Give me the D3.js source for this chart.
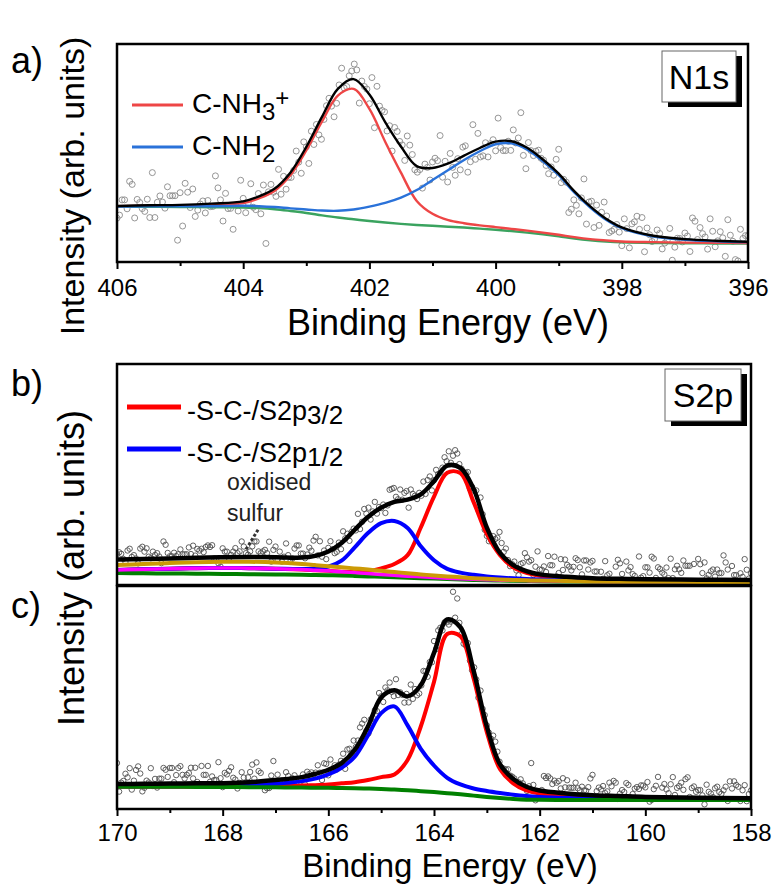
<!DOCTYPE html>
<html>
<head>
<meta charset="utf-8">
<script src="https://cdn.jsdelivr.net/npm/d3@7"></script>
<style>
  html, body { margin: 0; padding: 0; background: #fff; }
  svg { display: block; font-family: "Liberation Sans", Arial, sans-serif; }
</style>
</head>
<body>
<svg id="chart" width="774" height="885"></svg>
<script>
// ---------- N1s region (panel a) ----------
const n1sEnergy = [406,405.5,405,404.5,404,403.75,403.5,403.25,403,402.75,402.5,402.25,402,401.75,401.5,401.25,401,400.75,400.5,400.25,400,399.75,399.5,399.25,399,398.75,398.5,398.25,398,397.5,397,396.5,396];
const n1sBackground = [25.3,25.3,25.2,25.1,25.0,24.7,24.2,23.4,22.5,21.4,20.4,19.6,18.8,18.1,17.5,17.0,16.6,16.2,15.8,15.3,14.8,14.2,13.5,12.7,11.8,10.8,10.0,9.4,9.0,8.7,8.6,8.5,8.5];
const n1sNH3 = [25.6,25.8,25.9,26.3,27.0,29.2,32.7,39.9,51.2,64.5,76.3,79.4,70.2,55.2,41.0,28.0,22.1,19.2,17.8,16.8,16.0,15.2,14.4,13.5,12.5,11.4,10.5,9.9,9.4,9.1,8.9,8.8,8.7];
const n1sNH2 = [25.4,25.5,25.5,25.6,25.8,25.6,25.2,24.6,24.1,23.6,23.5,24.1,25.4,27.1,29.5,33.0,37.6,42.2,46.8,50.8,54.0,54.4,51.5,46.2,39.8,31.8,25.0,19.4,15.5,11.7,10.2,9.5,9.1];
const n1sEnvelope = [25.7,26.0,26.2,26.8,27.8,30.1,33.7,41.1,52.8,66.7,79.4,83.9,76.8,64.2,53.0,44.0,43.1,45.2,48.8,52.3,55.2,55.4,52.4,47.0,40.5,32.4,25.5,19.85,15.9,12.05,10.5,9.75,9.3];
// measured counts, scan from 406 eV downwards in 0.04 eV steps
const n1sScanStart = 406, n1sScanStep = 0.04;
const n1sCounts = [
20.1,21.5,28.5,28.5,24.4,37.0,35.6,20.2,28.7,27.3,
24.5,23.2,28.8,20.4,41.0,20.4,27.4,30.3,27.5,24.7,
34.5,30.4,30.4,30.4,10.0,31.8,16.5,36.1,32.0,25.0,
33.5,20.9,23.8,26.6,28.0,22.5,28.2,25.4,25.5,39.5,
34.0,28.5,18.8,31.5,24.5,24.6,15.0,26.2,23.4,37.5,
29.2,22.6,27.1,35.9,25.1,24.0,31.4,22.1,35.3,8.5,
32.2,35.6,32.0,30.1,42.5,31.1,39.3,33.4,38.8,38.8,
42.0,50.9,45.8,40.7,55.1,52.8,45.2,60.0,53.9,63.1,
58.3,56.3,65.4,71.7,75.1,71.5,66.6,72.8,81.2,88.9,
79.8,80.5,85.4,87.6,90.8,88.1,72.9,83.0,80.5,79.3,
72.6,84.6,61.6,80.6,71.5,69.5,68.9,60.1,62.5,50.9,
61.7,59.9,55.3,53.7,46.6,57.8,53.6,49.3,42.3,41.2,
42.4,33.9,44.9,43.4,37.6,45.9,47.6,46.5,58.0,38.9,
46.2,36.7,49.8,43.4,39.8,47.4,42.3,52.7,53.3,41.2,
46.0,63.0,47.1,59.0,48.2,48.7,54.7,48.2,54.3,56.1,
51.0,66.0,52.5,51.1,51.1,55.4,51.2,60.6,54.6,56.9,
68.5,48.9,42.8,54.8,51.1,48.8,50.8,51.3,47.6,46.7,
44.3,40.5,43.6,39.8,47.1,51.7,36.4,37.9,36.6,22.7,
24.2,28.5,26.0,22.1,29.4,38.1,17.4,27.5,27.9,15.8,
26.1,16.8,22.8,27.5,21.1,13.5,14.2,15.0,17.2,13.7,
7.5,19.8,15.3,6.5,17.5,18.4,21.0,15.0,20.4,4.7,
15.6,12.5,9.4,10.6,14.7,13.1,6.0,8.7,10.0,15.4,
0.8,6.8,10.9,10.8,9.2,13.3,11.9,4.8,20.2,18.7,
10.3,15.8,13.0,11.5,5.9,19.8,14.1,7.0,9.7,13.9,
11.1,2.6,19.4,12.3,9.5,1.1,0.5,15.0,10.8,12.1,
12.1];
const n1sTicks = [406,404,402,400,398,396];
const n1sMinorTicks = [405,403,401,399,397];

// ---------- S2p region (panels b and c share the energy grid) ----------
const s2pEnergy = [170,169.5,169,168.5,168,167.5,167,166.5,166.25,166,165.75,165.5,165.25,165,164.75,164.5,164.25,164,163.75,163.5,163.25,163,162.75,162.5,162.25,162,161.5,161,160.5,160,159,158];
const s2pScanStart = 170, s2pScanStep = 0.04;
const s2pTicks = [170,168,166,164,162,160,158];
const s2pMinorTicks = [169,167,165,163,161,159];

// panel b
const bBackground = [5.4,5.3,5.2,5.1,5.0,4.9,4.8,4.6,4.5,4.4,4.3,4.1,3.9,3.7,3.5,3.3,3.1,2.9,2.7,2.5,2.3,2.1,2.0,1.9,1.8,1.7,1.6,1.5,1.4,1.4,1.3,1.3];
const bOxidisedA = [6.8,7.1,7.4,7.6,7.7,7.6,7.4,7.0,6.7,6.4,6.0,5.6,5.2,4.8,4.4,4.0,3.7,3.4,3.1,2.8,2.6,2.4,2.2,2.1,2.0,1.9,1.7,1.6,1.5,1.5,1.4,1.4];
const bOxidisedB = [9.0,9.5,9.9,10.3,10.5,10.5,10.2,9.5,9.0,8.5,8.0,7.5,7.0,6.4,5.9,5.3,4.8,4.3,3.9,3.5,3.1,2.8,2.5,2.3,2.1,2.0,1.8,1.6,1.5,1.5,1.4,1.4];
const bS2p12 = [6.8,7.1,7.4,7.6,7.7,7.6,7.4,7.2,7.5,8.3,11.0,17.0,23.5,28.0,29.0,25.8,17.5,11.2,7.3,5.6,4.6,3.9,3.4,3.0,2.7,2.5,2.2,2.0,1.8,1.7,1.6,1.5];
const bS2p32 = [6.8,7.1,7.4,7.6,7.7,7.6,7.4,7.0,6.7,6.4,6.0,5.8,6.2,7.5,9.5,13.5,26.0,40.0,50.8,50.6,37.5,23.0,13.5,8.0,5.5,4.2,3.0,2.4,2.1,1.9,1.6,1.5];
const bEnvelope = [11.5,11.8,12.0,12.3,12.6,12.7,12.6,12.4,13.2,15.2,19.0,25.0,30.8,35.0,37.6,38.6,41.0,47.0,54.0,53.0,43.5,26.0,14.5,9.0,6.3,4.8,3.7,3.1,2.8,2.6,2.4,2.3];
const bCounts = [
14.0,14.8,14.1,11.8,10.4,15.6,16.4,12.7,13.5,12.0,
9.8,16.5,17.3,15.1,16.6,12.8,12.1,15.1,13.6,14.4,
12.9,9.9,19.7,18.2,14.5,13.0,13.0,14.6,13.1,13.9,
16.1,13.9,13.9,13.9,17.0,14.0,17.8,13.3,16.3,15.6,
16.4,14.9,17.2,17.9,17.2,18.0,12.0,11.3,9.8,8.3,
16.6,15.1,15.1,12.1,13.6,15.1,16.7,14.4,15.2,19.7,
17.4,14.4,13.7,15.2,17.5,19.7,19.7,15.2,14.4,15.2,
15.9,14.4,19.6,10.6,15.9,17.4,11.3,15.1,10.6,12.8,
18.8,13.5,10.5,12.0,16.5,17.9,17.9,14.2,14.2,12.1,
13.8,16.9,15.5,20.1,21.8,13.4,19.8,12.8,15.6,11.7,
16.8,19.8,16.2,14.4,15.0,19.2,16.2,24.3,21.1,23.2,
20.0,24.0,25.5,24.7,32.2,25.3,28.6,34.4,32.3,35.0,
29.6,33.3,37.6,32.3,35.3,34.8,36.4,32.6,36.0,43.1,
43.5,43.9,39.9,38.8,43.2,38.6,41.7,42.5,35.0,43.2,
41.2,40.4,38.9,41.7,40.4,46.8,41.2,47.5,49.1,42.8,
47.4,52.1,50.2,50.8,53.1,57.8,56.0,60.5,55.3,58.5,
61.0,59.5,54.7,52.6,50.5,50.8,51.1,43.6,44.4,42.6,
42.8,34.0,39.6,32.0,25.0,22.2,19.8,20.3,22.1,20.8,
21.4,24.0,19.0,15.0,16.5,11.3,8.5,9.4,10.6,6.6,
4.4,9.5,10.0,14.4,12.5,10.6,11.2,4.5,8.3,15.2,
7.0,6.9,8.4,5.9,13.1,9.0,8.9,12.8,3.9,5.4,
11.7,6.8,11.5,9.1,8.3,6.6,8.2,12.1,11.3,8.0,
4.8,11.1,11.1,7.0,10.2,10.9,6.1,6.1,2.1,6.0,
2.8,10.8,4.4,5.1,1.9,0.5,8.3,11.4,9.8,5.0,
1.0,10.6,6.6,8.1,4.9,4.1,0.6,12.9,3.3,4.0,
8.0,8.0,5.6,12.8,12.0,3.2,8.0,7.2,5.6,4.8,
7.9,3.1,11.9,3.1,7.1,8.7,7.1,5.5,11.1,8.7,
8.7,8.7,0.4,9.5,0.6,11.8,9.4,5.4,10.2,3.0,
4.6,6.2,7.0,3.8,7.0,5.4,5.4,13.4,10.2,7.0,
1.4,8.6,4.5,4.5,1.3,5.3,3.7,11.7,6.9,2.9,
5.3];

// panel c
const cBackground = [10.0,10.0,9.95,9.9,9.85,9.8,9.7,9.6,9.55,9.5,9.4,9.3,9.2,9.0,8.7,8.4,8.0,7.6,7.1,6.6,6.0,5.4,4.9,4.5,4.2,4.1,4.0,4.0,4.0,4.0,4.0,4.0];
const cS2p12 = [10.2,10.2,10.2,10.3,10.4,10.7,11.3,12.5,13.6,15.5,18.5,23.5,33.0,43.0,46.0,37.5,27.0,19.5,14.0,11.0,9.2,8.1,7.2,6.4,5.8,5.4,4.9,4.6,4.4,4.3,4.1,4.0];
const cS2p32 = [10.0,10.0,10.0,10.0,10.0,10.1,10.2,10.5,10.7,11.0,11.5,12.0,13.0,14.3,15.5,22.0,37.0,57.0,78.5,77.5,58.5,34.5,17.8,11.5,8.3,6.9,6.1,5.6,5.4,5.1,4.9,4.8];
const cEnvelope = [11.2,11.3,11.4,11.5,11.6,12.0,13.0,14.3,15.7,17.6,20.6,26.5,37.0,50.0,53.2,50.5,55.5,70.0,85.0,81.5,62.0,37.0,20.0,13.5,10.0,8.3,7.0,6.2,5.8,5.4,5.0,4.8];
const cCounts = [
20.6,7.8,11.8,12.6,15.8,14.2,18.3,8.7,12.7,17.5,
19.1,15.9,7.9,9.5,12.7,11.9,18.3,10.3,13.5,9.6,
13.6,13.6,18.4,17.6,14.4,18.4,18.4,12.0,15.2,18.4,
19.2,15.3,13.7,15.3,16.1,18.5,13.7,18.5,12.1,10.5,
19.3,15.3,15.3,19.3,12.2,14.6,13.0,13.0,21.0,13.8,
9.8,16.2,15.5,17.1,18.7,14.0,13.2,9.2,11.7,16.5,
14.1,11.8,14.2,16.6,19.9,13.6,20.9,17.0,16.2,11.5,
8.4,9.3,9.4,15.0,21.5,10.4,15.4,12.5,12.7,10.4,
16.5,14.8,13.1,13.8,15.1,10.9,11.6,13.5,15.5,11.0,
16.7,15.7,16.4,15.4,16.3,19.6,16.3,13.0,20.5,20.2,
15.1,22.2,17.3,19.6,17.7,19.9,21.6,24.8,18.0,26.7,
27.0,25.0,30.7,27.8,30.7,36.6,38.3,40.0,35.0,33.9,
40.1,41.0,44.3,43.9,52.0,50.5,48.0,54.5,53.2,56.7,
52.5,50.6,58.2,51.1,52.3,51.2,47.7,51.6,47.8,55.8,
49.4,53.8,51.0,51.8,55.4,61.9,61.8,59.3,65.9,65.8,
75.3,71.7,80.1,81.3,80.1,83.7,83.7,82.7,84.0,97.4,
85.8,94.4,83.5,78.4,74.1,73.4,74.4,66.5,62.2,63.5,
58.1,49.9,53.1,44.9,42.1,37.5,34.2,31.5,32.9,30.2,
25.7,21.2,18.6,18.1,17.7,17.8,15.0,14.5,13.7,12.0,
12.0,13.3,11.5,9.7,8.1,10.2,20.6,10.8,3.9,4.9,
5.8,8.5,14.8,13.9,14.6,13.7,11.2,12.7,11.8,12.5,
9.2,13.8,9.7,12.9,9.6,9.5,9.5,11.8,9.3,8.4,
10.0,8.3,8.2,9.8,13.7,15.3,4.9,8.0,9.6,8.8,
10.3,7.1,7.9,11.8,10.2,12.6,11.8,4.5,6.9,8.5,
7.6,11.6,10.8,5.1,6.7,9.1,9.8,9.0,10.6,10.5,
9.7,12.1,3.3,4.1,8.9,10.4,14.4,4.8,9.6,11.2,
8.8,7.1,11.1,14.3,6.3,9.5,10.3,11.8,8.6,13.4,
14.2,5.4,9.4,10.1,7.7,8.5,8.5,6.1,2.1,10.9,
7.7,6.9,5.3,9.3,10.0,7.6,6.8,8.4,10.0,3.6,
12.4,9.2,12.4,10.8,10.0,3.6,8.4,10.7,3.5,6.7,
8.3];

// ---------- drawing ----------
const FONT = '"Liberation Sans", Arial, sans-serif';
const svg = d3.select("#chart");
const defs = svg.append("defs");

const xN1s = d3.scaleLinear().domain([406, 396]).range([117, 748]);
const yA = d3.scaleLinear().domain([0, 100]).range([262, 44]);
const xS2p = d3.scaleLinear().domain([170, 158]).range([117, 751]);
const yB = d3.scaleLinear().domain([0, 100]).range([585, 364]);
const yC = d3.scaleLinear().domain([0, 100]).range([809, 586]);

function scanPoints(start, step, counts) {
  return counts.map((v, i) => [start - i * step, v]);
}

function drawPanel(cfg) {
  const [x0, x1] = cfg.x.range();
  const [yb, yt] = cfg.y.range();
  const clipId = "clip-" + cfg.name;
  defs.append("clipPath").attr("id", clipId).append("rect")
    .attr("x", x0).attr("y", yt).attr("width", x1 - x0).attr("height", yb - yt);
  const g = svg.append("g");
  const plot = g.append("g").attr("clip-path", `url(#${clipId})`);

  plot.append("g").selectAll("circle").data(cfg.points).join("circle")
    .attr("cx", d => cfg.x(d[0])).attr("cy", d => cfg.y(d[1]))
    .attr("r", cfg.r).attr("fill", "none")
    .attr("stroke", cfg.pointColor).attr("stroke-width", cfg.pointWidth);

  const line = d3.line()
    .x(d => cfg.x(d[0])).y(d => cfg.y(d[1]))
    .curve(d3.curveCatmullRom.alpha(0.5));
  cfg.curves.forEach(c => {
    plot.append("path")
      .datum(cfg.energy.map((e, i) => [e, c.values[i]]))
      .attr("d", line).attr("fill", "none")
      .attr("stroke", c.color).attr("stroke-width", c.width)
      .attr("stroke-linejoin", "round").attr("stroke-linecap", "round");
  });

  g.append("rect").attr("x", x0).attr("y", yt)
    .attr("width", x1 - x0).attr("height", yb - yt)
    .attr("fill", "none").attr("stroke", "#000").attr("stroke-width", 2.5);
  return g;
}

function bottomAxis(x, y0, major, minor, pad) {
  const ax = svg.append("g").attr("transform", `translate(0,${y0})`)
    .call(d3.axisBottom(x).tickValues(major).tickSizeInner(7).tickSizeOuter(0)
      .tickPadding(pad).tickFormat(d3.format("d")));
  ax.attr("font-size", 24).attr("font-family", FONT);
  ax.select(".domain").remove();
  ax.selectAll(".tick line").attr("stroke", "#000").attr("stroke-width", 2);
  ax.selectAll(".tick text").attr("fill", "#000");
  const mn = svg.append("g").attr("transform", `translate(0,${y0})`)
    .call(d3.axisBottom(x).tickValues(minor).tickSizeInner(4).tickSizeOuter(0).tickFormat(""));
  mn.select(".domain").remove();
  mn.selectAll(".tick line").attr("stroke", "#000").attr("stroke-width", 2);
}

function tagBox(x, y, w, h, label, fontSize) {
  svg.append("rect").attr("x", x + 6).attr("y", y + 5).attr("width", w).attr("height", h).attr("fill", "#000");
  svg.append("rect").attr("x", x).attr("y", y).attr("width", w).attr("height", h)
    .attr("fill", "#fff").attr("stroke", "#666").attr("stroke-width", 1);
  svg.append("text").attr("x", x + w / 2).attr("y", y + h / 2 + fontSize * 0.36)
    .attr("text-anchor", "middle").attr("font-size", fontSize).attr("font-family", FONT)
    .attr("fill", "#000").text(label);
}

// panel a
drawPanel({
  name: "a", x: xN1s, y: yA, energy: n1sEnergy,
  points: scanPoints(n1sScanStart, n1sScanStep, n1sCounts),
  r: 3, pointColor: "#8a8a8a", pointWidth: 0.9,
  curves: [
    { values: n1sBackground, color: "#3aa35f", width: 2.4 },
    { values: n1sNH3, color: "#ee4646", width: 2.4 },
    { values: n1sNH2, color: "#2a72d9", width: 2.4 },
    { values: n1sEnvelope, color: "#000", width: 2.4 }
  ]
});
bottomAxis(xN1s, 262, n1sTicks, n1sMinorTicks, 10);

// panel b
drawPanel({
  name: "b", x: xS2p, y: yB, energy: s2pEnergy,
  points: scanPoints(s2pScanStart, s2pScanStep, bCounts),
  r: 2.7, pointColor: "#505050", pointWidth: 0.9,
  curves: [
    { values: bS2p32, color: "#ff0000", width: 4 },
    { values: bS2p12, color: "#0000ff", width: 4 },
    { values: bBackground, color: "#008000", width: 4 },
    { values: bOxidisedA, color: "#ff00ff", width: 3.5 },
    { values: bOxidisedB, color: "#cc9a06", width: 4 },
    { values: bEnvelope, color: "#000", width: 4.5 }
  ]
});

// panel c
drawPanel({
  name: "c", x: xS2p, y: yC, energy: s2pEnergy,
  points: scanPoints(s2pScanStart, s2pScanStep, cCounts),
  r: 2.7, pointColor: "#505050", pointWidth: 0.9,
  curves: [
    { values: cS2p32, color: "#ff0000", width: 4 },
    { values: cS2p12, color: "#0000ff", width: 4 },
    { values: cBackground, color: "#008000", width: 4 },
    { values: cEnvelope, color: "#000", width: 4.5 }
  ]
});
bottomAxis(xS2p, 809, s2pTicks, s2pMinorTicks, 8);

// axis titles
svg.append("text").attr("x", 448).attr("y", 335).attr("text-anchor", "middle")
  .attr("font-size", 36).attr("font-family", FONT).text("Binding Energy (eV)");
svg.append("text").attr("x", 450).attr("y", 877).attr("text-anchor", "middle")
  .attr("font-size", 33).attr("font-family", FONT).text("Binding Energy (eV)");
svg.append("text").attr("transform", "translate(84,186) rotate(-90)").attr("text-anchor", "middle")
  .attr("font-size", 34).attr("font-family", FONT).text("Intensity (arb. units)");
svg.append("text").attr("transform", "translate(84,568) rotate(-90)").attr("text-anchor", "middle")
  .attr("font-size", 36).attr("font-family", FONT).text("Intensity (arb. units)");

// panel letters
[["a)", 73], ["b)", 396], ["c)", 618]].forEach(([t, y]) => {
  svg.append("text").attr("x", 11).attr("y", y).attr("font-size", 36)
    .attr("font-family", FONT).text(t);
});

// legend entries
function legendEntry(x1, x2, y, color, width, tx, ty, parts, fontSize) {
  svg.append("line").attr("x1", x1).attr("x2", x2).attr("y1", y).attr("y2", y)
    .attr("stroke", color).attr("stroke-width", width);
  const t = svg.append("text").attr("x", tx).attr("y", ty)
    .attr("font-size", fontSize).attr("font-family", FONT).attr("fill", "#000");
  parts.forEach(p => {
    const s = t.append("tspan").text(p.text);
    if (p.size) s.attr("font-size", p.size);
    if (p.dy) s.attr("dy", p.dy);
  });
}
legendEntry(132, 183, 105, "#ee4646", 3, 192, 113,
  [{ text: "C-NH" }, { text: "3", size: 24, dy: 7 }, { text: "+", size: 24, dy: -14 }], 28);
legendEntry(132, 183, 147, "#2a72d9", 3, 192, 155,
  [{ text: "C-NH" }, { text: "2", size: 24, dy: 7 }], 28);

legendEntry(127, 181, 407, "#ff0000", 5, 187, 420,
  [{ text: "-S-C-/S2p" }, { text: "3/2", size: 26, dy: 4 }], 27);
legendEntry(127, 181, 449, "#0000ff", 5, 187, 462,
  [{ text: "-S-C-/S2p" }, { text: "1/2", size: 26, dy: 4 }], 27);

// oxidised sulfur note with a dotted pointer
svg.append("text").attr("x", 227).attr("y", 490).attr("font-size", 23)
  .attr("font-family", FONT).attr("fill", "#222").text("oxidised");
svg.append("text").attr("x", 227).attr("y", 521).attr("font-size", 23)
  .attr("font-family", FONT).attr("fill", "#222").text("sulfur");
svg.append("line")
  .attr("x1", xS2p(167.33)).attr("y1", yB(25)).attr("x2", xS2p(167.56)).attr("y2", yB(16))
  .attr("stroke", "#333").attr("stroke-width", 3).attr("stroke-dasharray", "3,2");

// region tags
tagBox(662, 51, 74, 51, "N1s", 34);
tagBox(665, 369, 76, 52, "S2p", 34);
</script>
</body>
</html>
